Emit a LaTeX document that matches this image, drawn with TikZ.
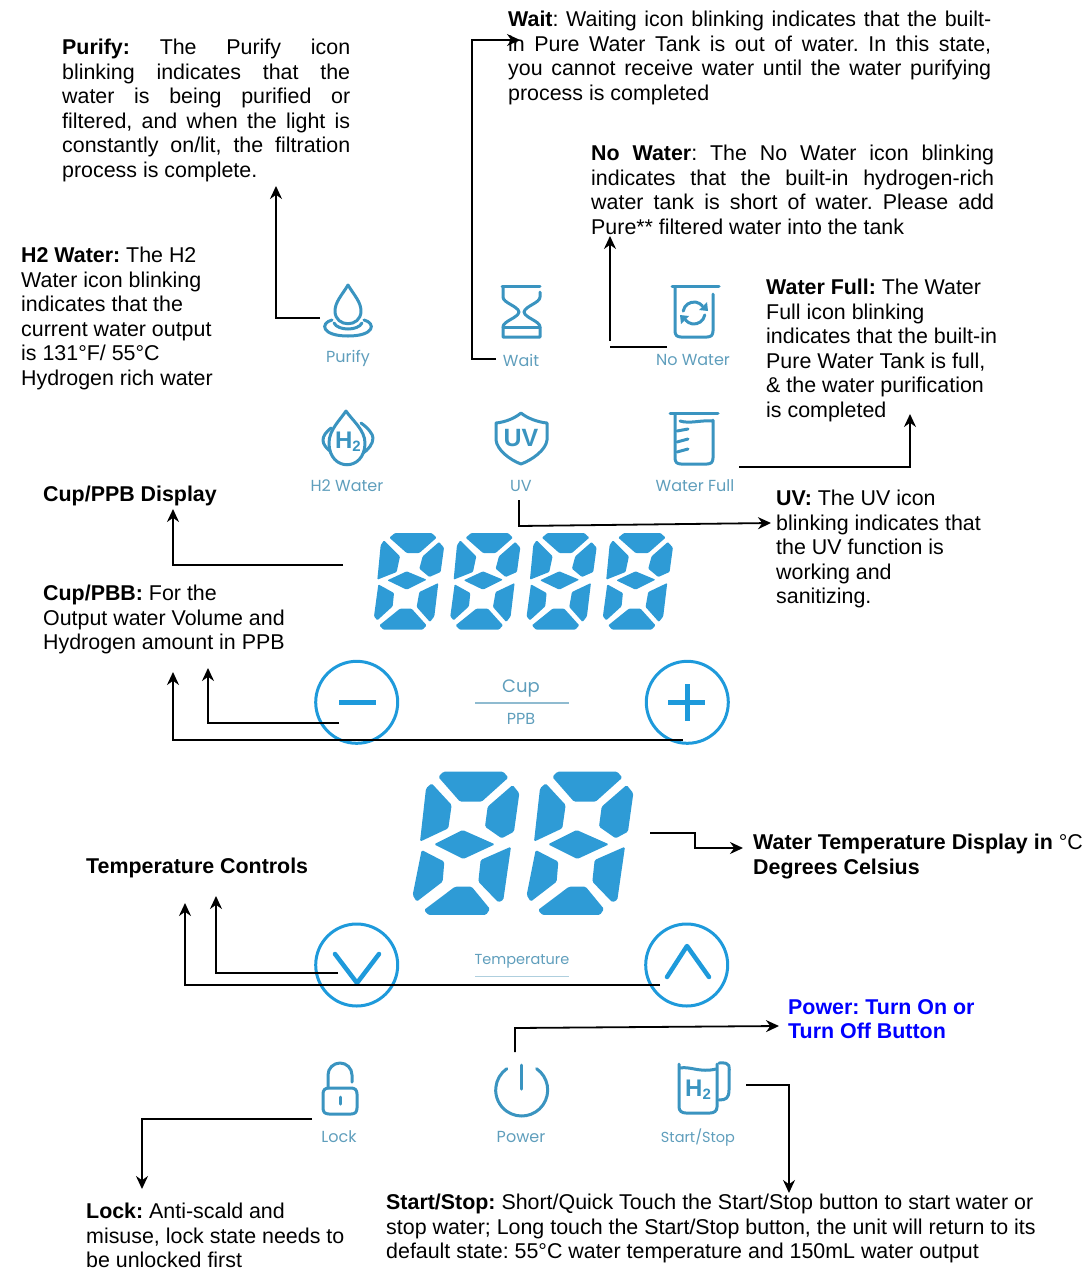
\documentclass[tikz,border=0pt]{standalone}
\usepackage{fontspec}
\setmainfont{Liberation Sans}
\newfontfamily\panelfont{Poppins}
\usetikzlibrary{arrows.meta}
\definecolor{iconblue}{HTML}{3A94C0}
\definecolor{labelblue}{HTML}{5F9EBC}
\definecolor{segblue}{HTML}{2E9BD6}
\definecolor{ringblue}{HTML}{1E9ADB}
\newcommand{\jl}[2]{\makebox[#1][s]{#2}}
\tikzset{
  conn/.style={draw=black, line width=1.8pt, -{Stealth[length=13pt,width=12pt]}},
  plainline/.style={draw=black, line width=1.8pt},
  info/.style={anchor=north west, inner sep=0pt, align=left, font=\fontsize{21.4}{24.5}\selectfont\frenchspacing},
  panellabel/.style={inner sep=0pt, text=labelblue, font=\panelfont\fontsize{16}{20}\selectfont},
  icon/.style={draw=iconblue, line width=3pt, line cap=round, line join=round},
  icontext/.style={inner sep=0pt, text=iconblue, font=\bfseries\fontsize{24}{24}\selectfont},
  ring/.style={draw=ringblue, line width=3pt},
  ringmark/.style={draw=ringblue, line width=4.5pt, line cap=round, line join=round},
  pics/segbig/.style={code={
    \fill[segblue, rounded corners=1.5pt] (85,36) -- (100,20) -- (280,20) -- (295,38) -- (215,110) -- (150,110) -- cycle;
    \fill[segblue, rounded corners=1.5pt] (65,55) -- (125,120) -- (115,190) -- (30,230) -- (48,70) -- cycle;
    \fill[segblue, rounded corners=1.5pt] (308,60) -- (328,85) -- (312,200) -- (275,220) -- (225,185) -- (233,125) -- cycle;
    \fill[segblue, rounded corners=1.5pt] (72,238) -- (158,195) -- (255,238) -- (160,282) -- cycle;
    \fill[segblue, rounded corners=1.5pt] (35,255) -- (103,290) -- (98,350) -- (20,410) -- (8,390) -- cycle;
    \fill[segblue, rounded corners=1.5pt] (303,245) -- (280,405) -- (265,412) -- (205,350) -- (212,285) -- cycle;
    \fill[segblue, rounded corners=1.5pt] (42,435) -- (135,365) -- (185,365) -- (240,432) -- (228,450) -- (55,450) -- cycle;
  }},
  pics/segsmall/.style={code={
    \fill[segblue, rounded corners=1pt] (58,32) -- (75,18) -- (185,18) -- (200,32) -- (148,78) -- (110,78) -- cycle;
    \fill[segblue, rounded corners=1pt] (42,40) -- (90,88) -- (80,135) -- (22,158) -- (32,55) -- cycle;
    \fill[segblue, rounded corners=1pt] (207,45) -- (222,62) -- (212,135) -- (178,150) -- (148,125) -- (158,88) -- cycle;
    \fill[segblue, rounded corners=1pt] (52,160) -- (110,133) -- (170,158) -- (110,188) -- cycle;
    \fill[segblue, rounded corners=1pt] (25,172) -- (72,198) -- (68,238) -- (22,280) -- (12,268) -- cycle;
    \fill[segblue, rounded corners=1pt] (205,168) -- (193,268) -- (180,285) -- (140,240) -- (148,195) -- cycle;
    \fill[segblue, rounded corners=1pt] (28,295) -- (90,245) -- (125,245) -- (170,295) -- (158,308) -- (40,308) -- cycle;
  }}
}
\begin{document}
\begin{tikzpicture}[x=1pt, y=-1pt]
  \useasboundingbox (0,0) rectangle (1090,1270);

  % panel icons
  \draw[icon] (348,285) .. controls (342,295) and (335,302) .. (335,311) .. controls (335,328) and (361,328) .. (361,311) .. controls (361,302) and (354,295) .. (348,285) -- cycle;
  \draw[icon] (332,320) .. controls (320,323) and (321,336) .. (348,336) .. controls (375,336) and (376,323) .. (364,320);
  \draw[icon] (334,323) .. controls (338,331) and (358,331) .. (362,323);
  \draw[icon] (502,286) -- (540,286);
  \draw[icon] (503,287) -- (503,297) .. controls (503,303) and (518,306) .. (519,312) .. controls (518,318) and (503,321) .. (503,327) -- (503,337) -- (540,337) -- (540,327) .. controls (540,321) and (525,318) .. (524,312) .. controls (525,306) and (540,303) .. (540,297) -- (540,292);
  \draw[icon] (503,327) -- (540,327);
  \draw[icon] (672,286) -- (719,286);
  \draw[icon] (675,287) -- (675,331) .. controls (675,335) and (677,337) .. (681,337) -- (707,337) .. controls (711,337) and (713,335) .. (713,331) -- (713,294);
  \draw[icon] (683.2,311.1) arc[start angle=190, end angle=320, radius=11];
  \draw[icon] (704.8,314.9) arc[start angle=10, end angle=140, radius=11];
  \fill[iconblue] (699,310) -- (708,311) -- (707,302) -- cycle;
  \fill[iconblue] (689,316) -- (680,315) -- (681,324) -- cycle;
  \draw[icon] (346,411) .. controls (340,420) and (329,430) .. (329,443) .. controls (329,472) and (365,472) .. (365,443) .. controls (365,430) and (352,420) .. (346,411) -- cycle;
  \draw[icon] (331,428) .. controls (326,432) and (323,436) .. (323,440) .. controls (323,444) and (326,448) .. (330,451);
  \draw[icon] (361,423) .. controls (368,428) and (373,434) .. (373,438) .. controls (373,444) and (368,450) .. (363,453);
  \node[icontext] (hicon) at (348,442) {H\raisebox{-3pt}{\fontsize{15}{15}\selectfont 2}};
  \draw[icon] (496,423) .. controls (506,422) and (515,418) .. (521,413) .. controls (527,418) and (537,422) .. (547,423) -- (547,440) .. controls (546,450) and (532,460) .. (521,464) .. controls (510,460) and (497,450) .. (496,440) -- cycle;
  \node[icontext, font=\bfseries\fontsize{25}{25}\selectfont] (uvicon) at (521,438) {UV};
  \draw[icon] (670,413) -- (718,413);
  \draw[icon] (675,414) -- (675,458) .. controls (675,462) and (677,464) .. (681,464) -- (707,464) .. controls (711,464) and (713,462) .. (713,458) -- (713,420);
  \draw[icon] (680,421) .. controls (690,424) and (700,420) .. (712,421);
  \draw[icon] (677,431) -- (688,429);
  \draw[icon] (677,442) -- (688,439);
  \draw[icon] (677,452) -- (688,449);
  \draw[icon] (328,1088) -- (328,1075) arc[start angle=180, end angle=360, radius=12] -- (352,1082);
  \draw[icon] (329,1088) -- (351,1088) .. controls (355,1088) and (357,1090) .. (357,1094) -- (357,1108) .. controls (357,1112) and (355,1114) .. (351,1114) -- (329,1114) .. controls (325,1114) and (323,1112) .. (323,1108) -- (323,1094) .. controls (323,1090) and (325,1088) .. (329,1088) -- cycle;
  \draw[icon] (340,1097) -- (340,1104);
  \draw[icon] (536.6,1068.7) arc[start angle=-55, end angle=235, radius=26];
  \draw[icon] (521.7,1065) -- (521.7,1089);
  \draw[icon] (679,1064) -- (679,1107) .. controls (679,1111) and (682,1113) .. (686,1113) -- (710,1113) .. controls (714,1113) and (717,1111) .. (717,1107) -- (717,1064);
  \draw[icon] (680,1068) .. controls (690,1066) and (700,1073) .. (716,1069);
  \draw[icon] (719,1063) .. controls (732,1062) and (729,1067) .. (729,1075) -- (729,1090) .. controls (729,1098) and (726,1100) .. (719,1100);
  \node[icontext] (jugicon) at (698,1090) {H\raisebox{-3pt}{\fontsize{15}{15}\selectfont 2}};

  % panel labels
  \node[panellabel] (purify) at (348,358) {Purify};
  \node[panellabel] (wait) at (521,360) {Wait};
  \node[panellabel] (nowater) at (693,360) {No Water};
  \node[panellabel] (h2water) at (347,486) {H2 Water};
  \node[panellabel] (uv) at (521,486) {UV};
  \node[panellabel] (waterfull) at (695,486) {Water Full};
  \node[panellabel, font=\panelfont\fontsize{18}{20}\selectfont] (cup) at (521,688) {Cup};
  \node[panellabel] (ppb) at (521,719) {PPB};
  \node[panellabel, font=\panelfont\fontsize{14.5}{18}\selectfont] (temperature) at (522,961) {Temperature};
  \node[panellabel] (lock) at (339,1137) {Lock};
  \node[panellabel] (power) at (521,1137) {Power};
  \node[panellabel, font=\panelfont\fontsize{14.5}{18}\selectfont] (startstop) at (698,1138) {Start/Stop};
  \draw[labelblue!70, line width=1.5pt] (475,703) -- (569,703);
  \draw[labelblue!50, line width=1pt] (475,976) -- (569,976);

  % segment displays
  \foreach \i in {0,1,2,3}
    \pic[shift={(370+76.3*\i,527)}, scale=0.3333] {segsmall};
  \foreach \i in {0,1}
    \pic[shift={(410+114*\i,765)}, scale=0.3333] {segbig};

  % round buttons
  \node[ring, circle, inner sep=0pt, minimum size=82pt] (minus) at (356.7,702.3) {};
  \node[ring, circle, inner sep=0pt, minimum size=82pt] (plus) at (687.3,702.3) {};
  \node[ring, circle, inner sep=0pt, minimum size=82pt] (down) at (356.7,965) {};
  \node[ring, circle, inner sep=0pt, minimum size=82pt] (up) at (686.7,965) {};
  \draw[ringmark, line cap=butt] (339,702.3) -- (376,702.3);
  \draw[ringmark, line cap=butt] (668,702.3) -- (705,702.3);
  \draw[ringmark, line cap=butt] (687.3,684) -- (687.3,721);
  \draw[ringmark] (335,954) -- (357,983) -- (379,954);
  \draw[ringmark] (667,977) -- (687,946) -- (709,977);

  % description texts
  \node[info] (purifytext) at (62,39) {\jl{288pt}{\textbf{Purify:} The Purify icon}\\\jl{288pt}{blinking indicates that the}\\\jl{288pt}{water is being purified or}\\\jl{288pt}{filtered, and when the light is}\\\jl{288pt}{constantly on/lit, the filtration}\\process is complete.};
  \node[info] (waittext) at (508,11) {\jl{483pt}{\textbf{Wait}: Waiting icon blinking indicates that the built-}\\\jl{483pt}{in Pure Water Tank is out of water. In this state,}\\\jl{483pt}{you cannot receive water until the water purifying}\\process is completed};
  \node[info] (nowatertext) at (591,145) {\jl{403pt}{\textbf{No Water}: The No Water icon blinking}\\\jl{403pt}{indicates that the built-in hydrogen-rich}\\\jl{403pt}{water tank is short of water. Please add}\\Pure** filtered water into the tank};
  \node[info] (fulltext) at (766,279) {\textbf{Water Full:} The Water\\Full icon blinking\\indicates that the built-in\\Pure Water Tank is full,\\\& the water purification\\is completed};
  \node[info] (h2text) at (21,247) {\textbf{H2 Water:} The H2\\Water icon blinking\\indicates that the\\current water output\\is 131°F/ 55°C\\Hydrogen rich water};
  \node[info] (displaytext) at (43,486) {\textbf{Cup/PPB Display}};
  \node[info] (cuptext) at (43,585) {\textbf{Cup/PBB:} For the\\Output water Volume and\\Hydrogen amount in PPB};
  \node[info] (uvtext) at (776,490) {\textbf{UV:} The UV icon\\blinking indicates that\\the UV function is\\working and\\sanitizing.};
  \node[info] (temptext) at (753,834) {\textbf{Water Temperature Display in} °C\\\textbf{Degrees Celsius}};
  \node[info] (controlstext) at (86,858) {\textbf{Temperature Controls}};
  \node[info, text=blue] (powertext) at (788,999) {\textbf{Power: Turn On or}\\\textbf{Turn Off Button}};
  \node[info] (locktext) at (86,1203) {\textbf{Lock:} Anti-scald and\\misuse, lock state needs to\\be unlocked first};
  \node[info] (starttext) at (386,1194) {\textbf{Start/Stop:} Short/Quick Touch the Start/Stop button to start water or\\stop water; Long touch the Start/Stop button, the unit will return to its\\default state: 55°C water temperature and 150mL water output};

  % connector ends
  \coordinate (purifya) at (320,318);
  \coordinate (purifyb) at (276,186);
  \coordinate (waita) at (496,359);
  \coordinate (waitb) at (472,40);
  \coordinate (waitc) at (520,40);
  \coordinate (nowatera) at (667,347);
  \coordinate (nowaterb) at (610,347);
  \coordinate (nowaterc) at (610,341);
  \coordinate (nowaterd) at (610,236);
  \coordinate (fulla) at (739,467);
  \coordinate (fullb) at (910,414);
  \coordinate (uva) at (519,500);
  \coordinate (uvb) at (519,526);
  \coordinate (uvc) at (771,523);
  \coordinate (displaya) at (343,565);
  \coordinate (displayb) at (173,509);
  \coordinate (minusa) at (339,723);
  \coordinate (minusb) at (208,668);
  \coordinate (plusa) at (683,740);
  \coordinate (plusb) at (173,672);
  \coordinate (tempa) at (650,833);
  \coordinate (tempb) at (695,833);
  \coordinate (tempc) at (695,848);
  \coordinate (tempd) at (743,848);
  \coordinate (downa) at (338,973);
  \coordinate (downb) at (216,896);
  \coordinate (upa) at (660,985);
  \coordinate (upb) at (185,903);
  \coordinate (powera) at (515,1052);
  \coordinate (powerb) at (515,1028);
  \coordinate (powerc) at (779,1026);
  \coordinate (locka) at (312,1119);
  \coordinate (lockb) at (142,1189);
  \coordinate (starta) at (746,1085);
  \coordinate (startb) at (789,1193);

  % connectors
  \draw[conn] (purifya) -| (purifyb);
  \draw[conn] (waita) -- (waitb |- waita) -- (waitb) -- (waitc);
  \draw[plainline] (nowatera) -- (nowaterb);
  \draw[conn] (nowaterc) -- (nowaterd);
  \draw[conn] (fulla) -| (fullb);
  \draw[conn] (uva) -- (uvb) -- (uvc);
  \draw[conn] (displaya) -| (displayb);
  \draw[conn] (minusa) -| (minusb);
  \draw[conn] (plusa) -| (plusb);
  \draw[conn] (tempa) -- (tempb) -- (tempc) -- (tempd);
  \draw[conn] (downa) -| (downb);
  \draw[conn] (upa) -| (upb);
  \draw[conn] (powera) -- (powerb) -- (powerc);
  \draw[conn] (locka) -| (lockb);
  \draw[conn] (starta) -| (startb);
\end{tikzpicture}
\end{document}
